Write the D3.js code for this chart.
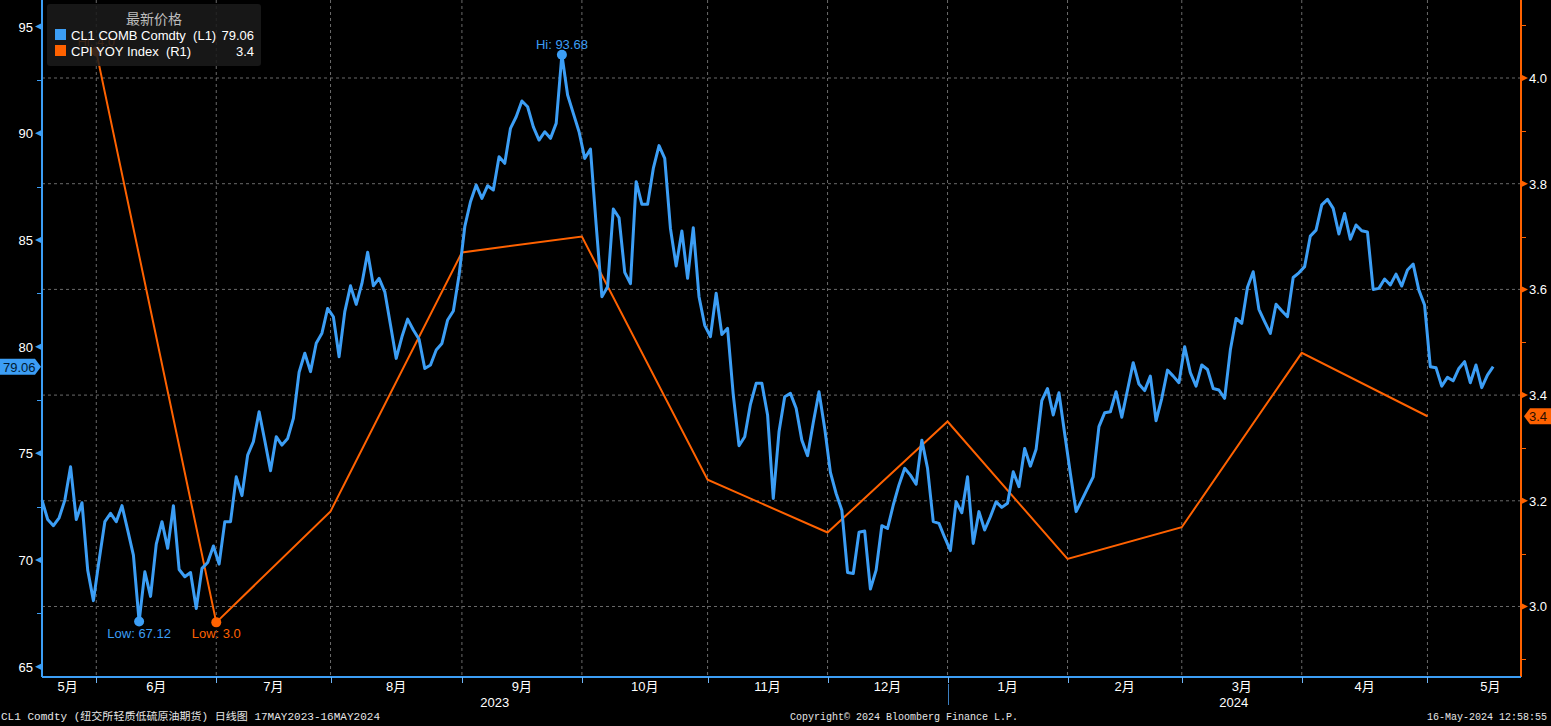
<!DOCTYPE html>
<html><head><meta charset="utf-8">
<script src="https://cdn.jsdelivr.net/npm/d3@7"></script>
<style>
html,body{margin:0;padding:0;background:#000;overflow:hidden}
svg{display:block}
text{white-space:pre}
</style></head><body>
<svg id="c" width="1551" height="726"></svg>
<script>
// ---------- DATA ----------
const monthLabels = ['5月','6月','7月','8月','9月','10月','11月','12月','1月','2月','3月','4月','5月'];
const monthTradingDays = [10,21,20,23,21,22,21,21,21,20,21,22,12];
const lastMonthFullDays = 22;
const yearLabels = ['2023','2024'];
const yearStartMonth = [0, 8];

const leftTicks = [65,70,75,80,85,90,95];
const rightTicks = [3.0,3.2,3.4,3.6,3.8,4.0];

const cl1Prices = [
72.81,71.9,71.61,71.98,72.81,74.37,71.9,72.69,69.53,68.1,
70.0,71.8,72.19,71.8,72.55,71.4,70.23,67.12,69.45,68.3,
70.75,71.8,70.55,72.55,69.56,69.22,69.42,67.73,69.61,69.89,
70.66,69.81,71.8,71.8,73.9,73.02,74.92,75.55,76.95,75.59,
74.19,75.78,75.39,75.7,76.64,78.8,79.69,78.83,80.16,80.63,
81.79,81.4,79.53,81.64,82.85,81.98,82.96,84.42,82.85,83.2,
82.57,81.01,79.45,80.46,81.29,80.78,80.35,78.98,79.14,79.84,
80.15,81.25,81.67,83.35,85.62,86.79,87.57,86.95,87.54,87.34,
88.9,88.59,90.23,90.77,91.51,91.24,90.3,89.68,90.07,89.76,
90.46,93.68,91.79,90.93,90.07,88.82,89.26,85.7,82.34,82.81,
86.45,86.04,83.48,82.95,87.73,86.67,86.67,88.35,89.42,88.82,
85.54,83.78,85.42,83.2,85.57,82.34,81.0,80.47,82.5,80.57,
80.86,77.73,75.36,75.78,77.3,78.28,78.28,76.8,72.89,76.01,
77.65,77.81,77.11,75.62,74.89,76.45,77.89,76.17,74.11,73.12,
72.34,69.42,69.37,71.3,71.36,68.64,69.53,71.61,71.48,72.58,
73.52,74.3,73.98,73.55,75.62,74.3,71.8,71.72,71.06,70.44,
72.73,72.22,73.9,70.78,72.27,71.41,72.03,72.73,72.47,72.66,
74.14,73.44,75.23,74.4,75.19,77.47,78.04,76.8,77.84,75.93,
74.06,72.27,72.81,73.36,73.9,76.25,76.9,76.95,77.89,76.69,
77.97,79.25,78.25,77.94,78.62,76.53,77.58,78.9,78.62,78.31,
80.0,78.78,78.15,79.14,78.93,78.04,77.97,77.58,79.84,81.32,
81.09,82.78,83.51,81.75,81.17,80.62,81.99,81.68,81.4,83.24,
83.46,83.75,85.18,85.46,86.64,86.9,86.48,85.28,86.24,85.03,
85.7,85.43,85.37,82.68,82.73,83.17,82.89,83.4,82.84,83.59,
83.87,82.65,81.95,79.06,79.01,78.15,78.56,78.4,78.98,79.3,
78.31,79.14,78.08,78.67,79.06
];
// CPI YoY, one value per month end (May 2023 .. Apr 2024)
const cpiYoY = [4.05,2.97,3.18,3.67,3.70,3.24,3.14,3.35,3.09,3.15,3.48,3.36];

const legendTitle = '最新价格';
const seriesNames = ['CL1 COMB Comdty  (L1)','CPI YOY Index  (R1)'];
const footerLeft = 'CL1 Comdty (纽交所轻质低硫原油期货) 日线图 17MAY2023-16MAY2024';
const footerMid = 'Copyright© 2024 Bloomberg Finance L.P.';
const footerRight = '16-May-2024 12:58:55';

// ---------- LAYOUT ----------
const BLUE = '#3c9ef5', ORANGE = '#ff6200', GRID = '#6a6a6a';
const L = 42, R = 1520, T = 0, B = 677;
const svg = d3.select('#c');
svg.append('rect').attr('width',1551).attr('height',726).attr('fill','#000');

const N = cl1Prices.length;
const x = d3.scaleLinear().domain([0, N - 1 + 4.7]).range([L, R]);
const yL = d3.scaleLinear().domain([64.522, 96.242]).range([B, T]);
const yR = d3.scaleLinear().domain([2.8666, 4.1476]).range([B, T]);

// month boundaries (in index units)
const cum = d3.cumsum(monthTradingDays);
const boundaries = Array.from(cum).slice(0, -1).map(c => c - 0.5);
const starts = [-0.5, ...boundaries];
const ends = [...boundaries, boundaries[boundaries.length-1] + lastMonthFullDays];
const monthMid = monthLabels.map((m,i) => (starts[i] + ends[i]) / 2);

const fontSans = "'Liberation Sans', Arial, sans-serif";
const fontCJK = "'Liberation Sans','Noto Sans CJK SC', sans-serif";

// grid
const g = svg.append('g');
g.selectAll('.hg').data(rightTicks).join('line')
  .attr('x1', L).attr('x2', R).attr('y1', d => yR(d)).attr('y2', d => yR(d))
  .attr('stroke', GRID).attr('stroke-dasharray', '3,3').attr('stroke-width', 1);
g.selectAll('.vg').data(boundaries).join('line')
  .attr('x1', d => x(d)).attr('x2', d => x(d)).attr('y1', T).attr('y2', B)
  .attr('stroke', GRID).attr('stroke-dasharray', '3,3').attr('stroke-width', 1);

// CPI line
const cpiPts = cpiYoY.map((v,i) => [boundaries[i], v]);
svg.append('path').datum(cpiPts)
  .attr('d', d3.line().x(d => x(d[0])).y(d => yR(d[1])))
  .attr('fill','none').attr('stroke', ORANGE).attr('stroke-width', 2);

// CL1 line
svg.append('path').datum(cl1Prices)
  .attr('d', d3.line().x((d,i) => x(i)).y(d => yL(d)))
  .attr('fill','none').attr('stroke', BLUE).attr('stroke-width', 3).attr('stroke-linejoin','round');

// Annotations
const fmt2 = d3.format('.2f'), fmt1 = d3.format('.1f');
function annot(px, py, label, color, below){
  svg.append('circle').attr('cx', px).attr('cy', py).attr('r', 5).attr('fill', color);
  svg.append('text').attr('x', px).attr('y', below ? py + 16 : py - 6)
    .attr('text-anchor','middle').attr('fill', color)
    .attr('font-family', fontSans).attr('font-size', 13).text(label);
}
const hiI = d3.maxIndex(cl1Prices), loI = d3.minIndex(cl1Prices);
annot(x(hiI), yL(cl1Prices[hiI]), 'Hi: ' + fmt2(cl1Prices[hiI]), BLUE, false);
annot(x(loI), yL(cl1Prices[loI]), 'Low: ' + fmt2(cl1Prices[loI]), BLUE, true);
const cHi = d3.maxIndex(cpiYoY), cLo = d3.minIndex(cpiYoY);
annot(x(cpiPts[cHi][0]), yR(cpiYoY[cHi]), 'Hi: ' + fmt1(cpiYoY[cHi]), ORANGE, false);
annot(x(cpiPts[cLo][0]), yR(cpiYoY[cLo]), 'Low: ' + fmt1(cpiYoY[cLo]), ORANGE, true);

// Axes lines
svg.append('line').attr('x1', L).attr('x2', L).attr('y1', T).attr('y2', B).attr('stroke', BLUE).attr('stroke-width', 2);
svg.append('line').attr('x1', R + 1).attr('x2', R + 1).attr('y1', T).attr('y2', B).attr('stroke', ORANGE).attr('stroke-width', 2);
svg.append('line').attr('x1', L).attr('x2', R + 1).attr('y1', B).attr('y2', B).attr('stroke', BLUE).attr('stroke-width', 2);

// left axis ticks
const leftMinor = d3.range(leftTicks[0] + 2.5, leftTicks[leftTicks.length-1], 5);
svg.selectAll('.lmin').data(leftMinor).join('line')
  .attr('x1', L - 5).attr('x2', L).attr('y1', d => Math.round(yL(d)) + 0.5).attr('y2', d => Math.round(yL(d)) + 0.5)
  .attr('stroke', BLUE).attr('stroke-width', 1);
svg.selectAll('.ltri').data(leftTicks).join('path')
  .attr('d', d => { const yy = yL(d); return `M${L-7},${yy}L${L},${yy-3.5}L${L},${yy+3.5}Z`; })
  .attr('fill', BLUE);
svg.selectAll('.llab').data(leftTicks).join('text')
  .attr('x', L - 9).attr('y', d => yL(d) + 5).attr('text-anchor','end')
  .attr('fill','#fff').attr('font-family', fontSans).attr('font-size', 13).text(d => d);

// right axis ticks
const rightMinor = d3.range(2.9, 4.15, 0.1).filter(v => Math.abs(Math.round(v*10) % 2) === 1);
svg.selectAll('.rmin').data(rightMinor).join('line')
  .attr('x1', R + 1).attr('x2', R + 6).attr('y1', d => Math.round(yR(d)) + 0.5).attr('y2', d => Math.round(yR(d)) + 0.5)
  .attr('stroke', ORANGE).attr('stroke-width', 1);
svg.selectAll('.rtri').data(rightTicks).join('path')
  .attr('d', d => { const yy = yR(d); return `M${R+1},${yy-3.5}L${R+8},${yy}L${R+1},${yy+3.5}Z`; })
  .attr('fill', ORANGE);
svg.selectAll('.rlab').data(rightTicks).join('text')
  .attr('x', R + 9).attr('y', d => yR(d) + 5)
  .attr('fill','#fff').attr('font-family', fontSans).attr('font-size', 13).text(d => fmt1(d));

// bottom axis
svg.selectAll('.btk').data(boundaries).join('line')
  .attr('x1', d => Math.round(x(d)) + 0.5).attr('x2', d => Math.round(x(d)) + 0.5).attr('y1', B).attr('y2', B + 6)
  .attr('stroke', '#6fb4f5').attr('stroke-width', 1);
svg.selectAll('.blab').data(monthLabels).join('text')
  .attr('x', (d,i) => x(monthMid[i])).attr('y', B + 14).attr('text-anchor','middle')
  .attr('fill','#fff').attr('font-family', fontCJK).attr('font-size', 13).text(d => d);
const yearX = yearStartMonth.map(m => m === 0 ? x(starts[0]) : x(starts[m]));
yearX.push(R);
svg.selectAll('.ylab').data(yearLabels).join('text')
  .attr('x', (d,i) => (Math.max(yearX[i], L) + yearX[i+1]) / 2).attr('y', B + 30).attr('text-anchor','middle')
  .attr('fill','#fff').attr('font-family', fontSans).attr('font-size', 13).text(d => d);
svg.append('line').attr('x1', Math.round(x(starts[yearStartMonth[1]])) + 0.5).attr('x2', Math.round(x(starts[yearStartMonth[1]])) + 0.5)
  .attr('y1', B + 7).attr('y2', B + 28).attr('stroke', '#3c7fc0').attr('stroke-width', 1);

// value tags
const lastP = cl1Prices[N-1], lastC = cpiYoY[cpiYoY.length-1];
const ty = yL(lastP);
svg.append('path').attr('d', `M0,${ty-8}L35,${ty-8}L41,${ty}L35,${ty+8}L0,${ty+8}Z`).attr('fill', BLUE);
svg.append('text').attr('x', 3).attr('y', ty + 5).attr('fill','#001a33')
  .attr('font-family', fontSans).attr('font-size', 13).text(fmt2(lastP));
const ry = yR(lastC);
svg.append('path').attr('d', `M1524,${ry}L1530,${ry-8}L1551,${ry-8}L1551,${ry+8}L1530,${ry+8}Z`).attr('fill', ORANGE);
svg.append('text').attr('x', 1529).attr('y', ry + 5).attr('fill','#2a0e00')
  .attr('font-family', fontSans).attr('font-size', 13).text(fmt1(lastC));

// legend (semi-transparent, covering the CPI "Hi" note as in the original)
const lg = svg.append('g');
lg.append('rect').attr('x', 47).attr('y', 4).attr('width', 214).attr('height', 62).attr('rx', 3)
  .attr('fill', '#1b1b1b').attr('fill-opacity', 0.86);
lg.append('text').attr('x', 154).attr('y', 24).attr('text-anchor','middle').attr('fill','#bdbdbd')
  .attr('font-family', "'Noto Sans CJK SC', sans-serif").attr('font-size', 14).text(legendTitle);
const legColors = [BLUE, ORANGE];
const legVals = [fmt2(lastP), fmt1(lastC)];
seriesNames.forEach((s,i) => {
  const yy = 29 + i*16;
  lg.append('rect').attr('x', 55).attr('y', yy).attr('width', 11).attr('height', 11).attr('fill', legColors[i]);
  lg.append('text').attr('x', 71).attr('y', yy + 10.5).attr('fill','#fff')
    .attr('font-family', fontSans).attr('font-size', 13).text(s);
  lg.append('text').attr('x', 254).attr('y', yy + 10.5).attr('text-anchor','end').attr('fill','#fff')
    .attr('font-family', fontSans).attr('font-size', 13).text(legVals[i]);
});

// footer
const ff = "'Liberation Mono','Noto Sans CJK SC', monospace";
svg.append('text').attr('x', 1).attr('y', 720).attr('fill','#e6e6e6').attr('font-family', ff).attr('font-size', 10.5)
  .attr('textLength', 379).attr('lengthAdjust','spacingAndGlyphs').text(footerLeft);
svg.append('text').attr('x', 790).attr('y', 720).attr('fill','#e6e6e6').attr('font-family', ff).attr('font-size', 10)
  .text(footerMid);
svg.append('text').attr('x', 1547).attr('y', 720).attr('text-anchor','end').attr('fill','#e6e6e6').attr('font-family', ff).attr('font-size', 10)
  .text(footerRight);
</script>
</body></html>
